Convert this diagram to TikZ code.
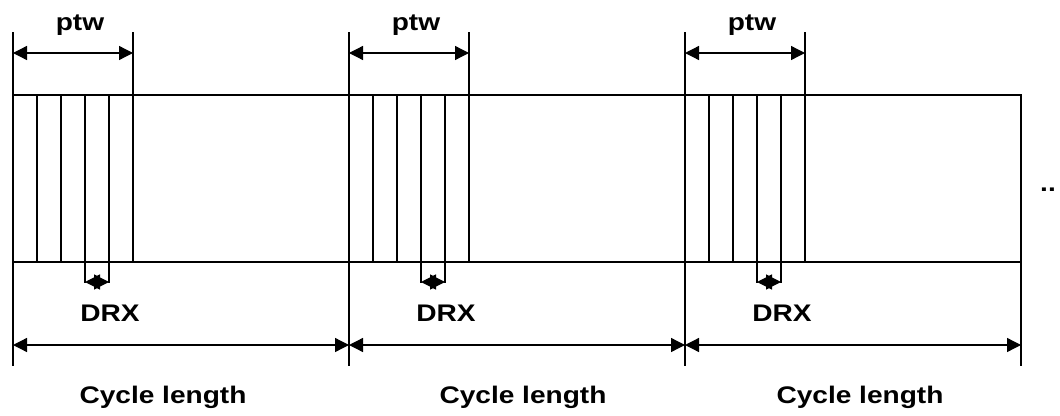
\documentclass[tikz,border=0pt]{standalone}
\usepackage{fontspec}
\setmainfont{Liberation Sans}
\usetikzlibrary{arrows.meta}
\begin{document}
\begin{tikzpicture}[x=1pt,y=-1pt,
  ln/.style={line width=1.3pt,line cap=rect},
  thk/.style={line width=2pt},
  dim/.style={line width=1.3pt,{Triangle[length=14pt,width=14pt]}-{Triangle[length=14pt,width=14pt]}},
  sdim/.style={line width=1.3pt,{Triangle[length=15pt,width=15pt]}-{Triangle[length=15pt,width=15pt]}},
  lbl/.style={font=\fontsize{24}{28}\selectfont\bfseries,inner sep=0pt}]
\useasboundingbox (0,0) rectangle (1060,415);
% box outline
\coordinate (tl) at (13,95);
\coordinate (tr) at (1021,95);
\coordinate (bl) at (13,262);
\coordinate (br) at (1021,262);
\draw[ln] (tl) -- (tr);
\draw[ln] (bl) -- (br);
\coordinate (rtop) at (1021,95);
\coordinate (rbot) at (1021,365);
\draw[ln] (rtop) -- (rbot);
\foreach \i/\o/\cx in {1/0/163,2/336/523,3/672/860}{
  % block boundary
  \coordinate (s\i top) at (13+\o,33);
  \coordinate (s\i bot) at (13+\o,365);
  \draw[ln] (s\i top) -- (s\i bot);
  % slots
  \coordinate (a\i t) at (37+\o,95);  \coordinate (a\i b) at (37+\o,262);
  \coordinate (b\i t) at (61+\o,95);  \coordinate (b\i b) at (61+\o,262);
  \coordinate (c\i t) at (85+\o,95);  \coordinate (c\i b) at (85+\o,282);
  \coordinate (d\i t) at (109+\o,95); \coordinate (d\i b) at (109+\o,282);
  \coordinate (e\i t) at (133+\o,33); \coordinate (e\i b) at (133+\o,262);
  \draw[ln] (a\i t) -- (a\i b);
  \draw[ln] (b\i t) -- (b\i b);
  \draw[ln] (c\i t) -- (c\i b);
  \draw[ln] (d\i t) -- (d\i b);
  \draw[ln] (e\i t) -- (e\i b);
  % ptw
  \coordinate (pl\i) at (13+\o,53);
  \coordinate (pr\i) at (133+\o,53);
  \draw[dim] (pl\i) -- (pr\i);
  \node[lbl] (ptw\i) at (80+\o,25) {\scalebox{1.17}[1]{ptw}};
  % DRX
  \coordinate (xl\i) at (85+\o,282);
  \coordinate (xr\i) at (109+\o,282);
  \draw[sdim] (xl\i) -- (xr\i);
  \node[lbl] (drx\i) at (110+\o,313) {\scalebox{1.17}[1]{DRX}};
  % cycle length
  \coordinate (cl\i) at (13+\o,345);
  \coordinate (cr\i) at (349+\o,345);
  \draw[dim] (cl\i) -- (cr\i);
  \node[lbl] (cyc\i) at (\cx,397) {\scalebox{1.17}[1]{Cycle length}};
}
\draw[thk] (13,33) -- (13,365);
\draw[thk] (133,95) -- (133,262);
\node[lbl,anchor=base west] (dots) at (1040,191) {\scalebox{1.17}[1]{..}};
\end{tikzpicture}
\end{document}
